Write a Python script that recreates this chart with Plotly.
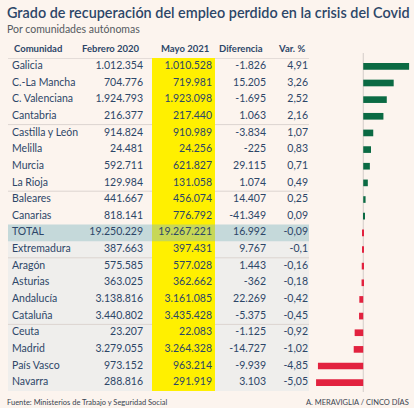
import plotly.graph_objects as go

# ---------------- data ----------------
comunidades = ["Galicia", "C.-La Mancha", "C. Valenciana", "Cantabria", "Castilla y León",
               "Melilla", "Murcia", "La Rioja", "Baleares", "Canarias", "TOTAL",
               "Extremadura", "Aragón", "Asturias", "Andalucía", "Cataluña", "Ceuta",
               "Madrid", "País Vasco", "Navarra"]
febrero_2020 = [1012354, 704776, 1924793, 216377, 914824, 24481, 592711, 129984, 441667,
                818141, 19250229, 387663, 575585, 363025, 3138816, 3440802, 23207,
                3279055, 973152, 288816]
mayo_2021 = [1010528, 719981, 1923098, 217440, 910989, 24256, 621827, 131058, 456074,
             776792, 19267221, 397431, 577028, 362662, 3161085, 3435428, 22083,
             3264328, 963214, 291919]
diferencia = [-1826, 15205, -1695, 1063, -3834, -225, 29115, 1074, 14407, -41349, 16992,
              9767, 1443, -362, 22269, -5375, -1125, -14727, -9939, 3103]
var_pct = [4.91, 3.26, 2.52, 2.16, 1.07, 0.83, 0.71, 0.49, 0.25, 0.09, -0.09, -0.1,
           -0.16, -0.18, -0.42, -0.45, -0.92, -1.02, -4.85, -5.05]
headers = ["Comunidad", "Febrero 2020", "Mayo 2021", "Diferencia", "Var. %"]
separadores_tras = ["Cantabria", "La Rioja", "Extremadura", "Cataluña"]

# ---------------- styles ----------------
W, H = 414, 408
BG = "#fcf4ee"
NAVY = "#2d4668"
GREEN = "#0b6a43"
RED = "#e2223f"
FONT = "Lato"
FS = 10.5


def miles(n):
    s = f"{abs(n):,}".replace(",", ".")
    return ("-" if n < 0 else "") + s


def pct(v):
    return str(v).replace(".", ",")


def py(px):  # pixel from top -> paper
    return 1 - px / H


fig = go.Figure()

# bars
fig.add_trace(go.Bar(
    x=var_pct, y=comunidades, orientation="h",
    marker=dict(color=[GREEN if v >= 0 else RED for v in var_pct], line=dict(width=0)),
    width=0.4, xaxis="x", yaxis="y", hoverinfo="skip", showlegend=False))

# table columns (x2 axis in pixel units)
col_x = [12, 143, 212, 266, 308]
cols = [comunidades,
        [miles(v) for v in febrero_2020],
        [miles(v) for v in mayo_2021],
        [miles(v) for v in diferencia],
        [pct(v) for v in var_pct]]
for i, (cx, txt) in enumerate(zip(col_x, cols)):
    fig.add_trace(go.Scatter(
        x=[cx] * len(comunidades), y=comunidades, text=txt, mode="text",
        textposition="middle right" if i == 0 else "middle left",
        textfont=dict(family=FONT, size=FS, color=NAVY),
        xaxis="x2", yaxis="y", hoverinfo="skip", showlegend=False, cliponaxis=False))

shapes = []
n = len(comunidades)
i_total = comunidades.index("TOTAL")
# gray rows below total
shapes.append(dict(type="rect", xref="x2", yref="y", x0=8, x1=309,
                   y0=i_total + 0.5, y1=n - 0.5, fillcolor="#efeeec", line_width=0, layer="below"))
# separators
for name in separadores_tras:
    k = comunidades.index(name) + 0.5
    shapes.append(dict(type="line", xref="x2", yref="y", x0=8, x1=309, y0=k, y1=k,
                       line=dict(color="#dcd4d0", width=1), layer="below"))
shapes.append(dict(type="line", xref="x2", yref="y", x0=8, x1=309, y0=-0.5, y1=-0.5,
                   line=dict(color="#ddd5d1", width=1.5), layer="below"))
# yellow column
shapes.append(dict(type="rect", xref="x2", yref="y", x0=152, x1=215,
                   y0=-0.5, y1=n - 0.5, fillcolor="#fff000", line_width=0, layer="below"))
# total band
shapes.append(dict(type="rect", xref="x2", yref="y", x0=8, x1=309,
                   y0=i_total - 0.5, y1=i_total + 0.5, fillcolor="rgba(130,185,192,0.45)",
                   line_width=0, layer="below"))
# zero line
shapes.append(dict(type="line", xref="x", yref="paper", x0=0, x1=0, y0=py(392), y1=py(53),
                   line=dict(color="#d3ccc8", width=1), layer="below"))

annotations = []
for h, cx, i in zip(headers, col_x, range(5)):
    annotations.append(dict(text=f"<b>{h}</b>", xref="x2", yref="paper", x=cx if i == 0 else cx - 1,
                            y=py(48), xanchor="left" if i == 0 else "right", yanchor="middle",
                            showarrow=False, font=dict(family=FONT, size=9.5, color=NAVY)))
annotations += [
    dict(text="Grado de recuperación del empleo perdido en la crisis del Covid",
         xref="paper", yref="paper", x=5 / W, y=py(12), xanchor="left", yanchor="middle",
         showarrow=False, font=dict(family=FONT, size=14.4, color=NAVY, weight=600)),
    dict(text="Por comunidades autónomas", xref="paper", yref="paper", x=5 / W, y=py(29),
         xanchor="left", yanchor="middle", showarrow=False,
         font=dict(family=FONT, size=10.5, color="#555a60")),
    dict(text="Fuente: Ministerios de Trabajo y Seguridad Social", xref="paper", yref="paper",
         x=5 / W, y=py(402), xanchor="left", yanchor="middle", showarrow=False,
         font=dict(family=FONT, size=7.5, color="#3a4450")),
    dict(text="A. MERAVIGLIA / CINCO DÍAS", xref="paper", yref="paper",
         x=411 / W, y=py(402), xanchor="right", yanchor="middle", showarrow=False,
         font=dict(family=FONT, size=7.5, color="#3a4450")),
]

fig.update_layout(
    width=W, height=H, margin=dict(l=0, r=0, t=0, b=0),
    paper_bgcolor=BG, plot_bgcolor="rgba(0,0,0,0)",
    xaxis=dict(domain=[310 / W, 412 / W], range=[-5.70, 5.22], visible=False, fixedrange=True),
    xaxis2=dict(domain=[0, 1], range=[0, W], visible=False, anchor="y", fixedrange=True),
    yaxis=dict(domain=[py(391), py(58)], range=[n - 0.5, -0.5], visible=False,
               type="category", fixedrange=True),
    shapes=shapes, annotations=annotations, bargap=0.6,
)

fig.write_html("out.html", config={"displayModeBar": False},
               post_script="document.body.style.margin='0';document.body.style.background='" + BG + "';")
